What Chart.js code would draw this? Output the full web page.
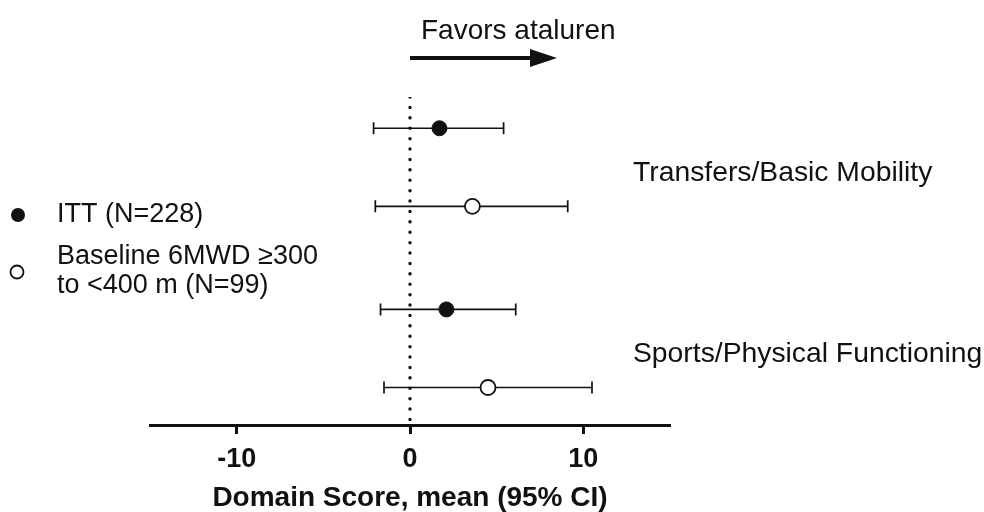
<!DOCTYPE html>
<html>
<head>
<meta charset="utf-8">
<script src="https://cdn.jsdelivr.net/npm/chart.js@4/dist/chart.umd.min.js"></script>
<style>
  html, body { margin: 0; padding: 0; background: #fff; }
  #wrap { width: 984px; height: 512px; position: relative; }
</style>
</head>
<body>
<div id="wrap"><canvas id="forest"></canvas></div>
<script>
// domains shown on the right, one pair of rows each
const domains = ['Transfers/Basic Mobility', 'Sports/Physical Functioning'];

// ITT population (N=228): mean and 95% CI
const ittMean = [1.7, 2.1];
const ittLow = [-2.1, -1.7];
const ittHigh = [5.4, 6.1];

// Baseline 6MWD >=300 to <400 m (N=99)
const subMean = [3.6, 4.5];
const subLow = [-2.0, -1.5];
const subHigh = [9.1, 10.5];

// row slots on the (hidden) y axis
const ittRow = [1, 3.32];
const subRow = [2, 4.32];

const xTicks = [-10, 0, 10];

const FONT = "'Liberation Sans', Arial, sans-serif";
const INK = '#111';

// whiskers with end caps, drawn under the points
const errorBars = {
    id: 'errorBars',
    beforeDatasetsDraw(chart) {
        const { ctx, scales: { x, y } } = chart;
        const rows = [];
        ittMean.forEach((m, i) => rows.push([ittLow[i], ittHigh[i], ittRow[i]]));
        subMean.forEach((m, i) => rows.push([subLow[i], subHigh[i], subRow[i]]));
        ctx.save();
        ctx.strokeStyle = INK;
        ctx.lineWidth = 1.7;
        rows.forEach(([lo, hi, r]) => {
            const py = y.getPixelForValue(r);
            const x1 = x.getPixelForValue(lo);
            const x2 = x.getPixelForValue(hi);
            ctx.beginPath();
            ctx.moveTo(x1, py); ctx.lineTo(x2, py);
            ctx.moveTo(x1, py - 6); ctx.lineTo(x1, py + 6);
            ctx.moveTo(x2, py - 6); ctx.lineTo(x2, py + 6);
            ctx.stroke();
        });
        ctx.restore();
    }
};

// legend, domain labels and the "favors" arrow
const annotations = {
    id: 'annotations',
    afterDraw(chart) {
        const { ctx, scales: { x, y } } = chart;
        ctx.save();
        ctx.fillStyle = INK;
        ctx.strokeStyle = INK;
        ctx.textBaseline = 'middle';
        ctx.textAlign = 'left';

        // domain labels
        ctx.font = '28.3px ' + FONT;
        domains.forEach((d, i) => {
            const mid = (ittRow[i] + subRow[i]) / 2;
            ctx.fillText(d, 633, y.getPixelForValue(mid) + 6);
        });

        // legend
        ctx.font = '27px ' + FONT;
        ctx.beginPath();
        ctx.arc(18, 215, 7, 0, Math.PI * 2);
        ctx.fill();
        ctx.fillText('ITT (N=228)', 57, 215);
        ctx.beginPath();
        ctx.lineWidth = 1.8;
        ctx.arc(17, 272, 6.5, 0, Math.PI * 2);
        ctx.stroke();
        ctx.fillText('Baseline 6MWD \u2265300', 57, 257);
        ctx.fillText('to <400 m (N=99)', 57, 286);

        // favors arrow
        const x0 = x.getPixelForValue(0);
        ctx.font = '28px ' + FONT;
        ctx.fillText('Favors ataluren', 421, 31);
        ctx.lineWidth = 4;
        ctx.beginPath();
        ctx.moveTo(x0, 58); ctx.lineTo(532, 58);
        ctx.stroke();
        ctx.beginPath();
        ctx.moveTo(530, 49); ctx.lineTo(557, 58); ctx.lineTo(530, 67);
        ctx.closePath();
        ctx.fill();
        ctx.restore();
    }
};

new Chart(document.getElementById('forest'), {
    type: 'scatter',
    data: {
        datasets: [
            {
                label: 'ITT (N=228)',
                data: ittMean.map((m, i) => ({ x: m, y: ittRow[i] })),
                pointRadius: 7.5,
                pointBackgroundColor: INK,
                pointBorderColor: INK,
                borderWidth: 1
            },
            {
                label: 'Baseline 6MWD \u2265300 to <400 m (N=99)',
                data: subMean.map((m, i) => ({ x: m, y: subRow[i] })),
                pointRadius: 7.5,
                pointBackgroundColor: '#fff',
                pointBorderColor: INK,
                pointBorderWidth: 1.8
            },
            {
                type: 'line',
                label: 'zero',
                data: [{ x: 0, y: 0.6 }, { x: 0, y: 4.8 }],
                borderColor: INK,
                borderWidth: 3.4,
                borderDash: [0.1, 10.3],
                borderCapStyle: 'round',
                pointRadius: 0,
                order: 5
            }
        ]
    },
    options: {
        responsive: true,
        maintainAspectRatio: false,
        animation: false,
        layout: { padding: { left: 150, right: 314, top: 97, bottom: 0 } },
        plugins: {
            legend: { display: false },
            tooltip: { enabled: false }
        },
        scales: {
            x: {
                type: 'linear',
                min: -15,
                max: 15,
                afterBuildTicks: axis => { axis.ticks = xTicks.map(v => ({ value: v })); },
                afterFit: axis => { axis.height = 87; },
                border: { display: true, color: INK, width: 3 },
                grid: {
                    drawOnChartArea: false,
                    drawTicks: true,
                    tickLength: 9,
                    tickWidth: 3,
                    color: INK
                },
                ticks: {
                    color: INK,
                    padding: 12,
                    font: { family: FONT, size: 27, weight: 'bold', lineHeight: 1 }
                },
                title: {
                    display: true,
                    text: 'Domain Score, mean (95% CI)',
                    color: INK,
                    padding: { top: 3, bottom: 0 },
                    font: { family: FONT, size: 28, weight: 'bold', lineHeight: 1 }
                }
            },
            y: {
                type: 'linear',
                display: false,
                reverse: true,
                min: 0.6,
                max: 4.8
            }
        }
    },
    plugins: [errorBars, annotations]
});
</script>
</body>
</html>
